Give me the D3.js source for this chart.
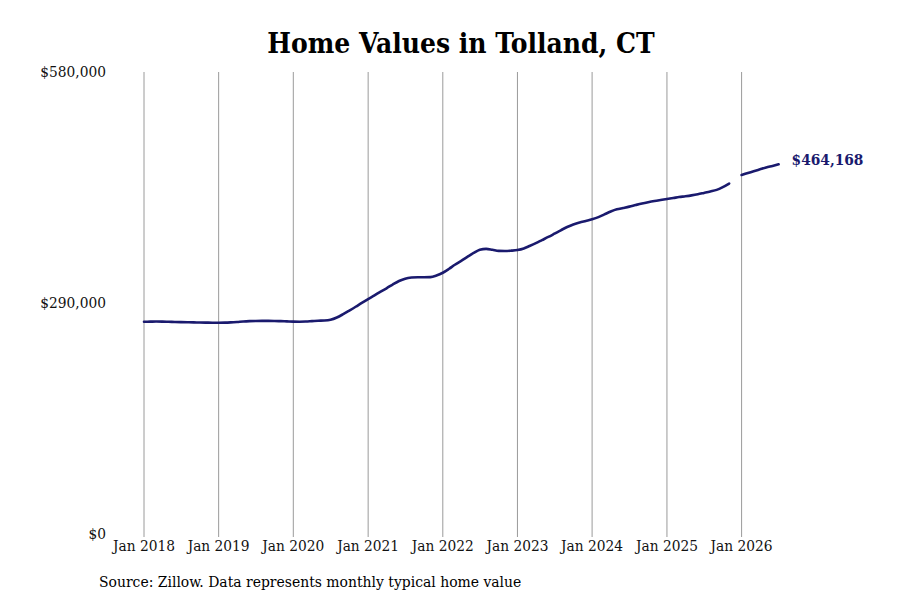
<!DOCTYPE html>
<html><head><meta charset="utf-8">
<script src="https://cdn.jsdelivr.net/npm/d3@7"></script>
<style>
body{margin:0;background:#fff;}
svg text{font-family:"DejaVu Serif Condensed","DejaVu Serif",serif;font-stretch:condensed;}
</style></head>
<body><svg id="c" width="900" height="600"></svg>
<script>
const title = "Home Values in Tolland, CT";
const source = "Source: Zillow. Data represents monthly typical home value";
const yTicks = [0, 290000, 580000];
const xTickYears = [2018, 2019, 2020, 2021, 2022, 2023, 2024, 2025, 2026];
const histStart = "2018-01";
const histValues = [
 266500,266600,266700,266600,266400,266200,266000,265800,265700,265500,265400,265300,
 265300,265400,265700,266200,266800,267200,267400,267500,267500,267400,267200,266900,
 266600,266500,266700,267200,267700,268000,269000,271800,276000,280500,285300,290200,
 295000,299600,304000,308500,313200,317600,320600,322000,322400,322300,322500,324500,
 328000,333000,338000,342800,347800,352800,356800,358000,356800,355400,355300,355700,
 356500,358500,361600,365200,369000,372900,377000,381300,385400,388600,391000,393000,
 395100,397800,401200,404800,407600,409300,411000,413000,414900,416500,418000,419300,
 420600,421800,423000,424000,425100,426500,428200,430000,432000,435500,440000
];
const fcStart = "2026-01";
const fcValues = [450700,453300,455500,457800,460000,462100,464168];

const parse = d3.timeParse("%Y-%m");
function series(start, vals){
  const s = parse(start);
  return vals.map((v,i)=>({date:d3.timeMonth.offset(s,i), value:v}));
}
const hist = series(histStart, histValues);
const fc = series(fcStart, fcValues);

const svg = d3.select("#c");
const x = d3.scaleTime().domain([new Date(2018,0,1), new Date(2026,0,1)]).range([144, 741.6]);
const y = d3.scaleLinear().domain([0, 580000]).range([534, 72]);

svg.append("g").selectAll("line").data(xTickYears).join("line")
  .attr("x1", d=>x(new Date(d,0,1))).attr("x2", d=>x(new Date(d,0,1)))
  .attr("y1", y(580000)).attr("y2", y(0)+3)
  .attr("stroke", "#9a9a9a").attr("stroke-width", 1);

svg.append("g").selectAll("text").data(xTickYears).join("text")
  .attr("x", d=>x(new Date(d,0,1))).attr("y", 550.5)
  .attr("text-anchor","middle").attr("font-size", 15.3).attr("fill","#111")
  .text(d=>"Jan " + d);

const fmt = d3.format(",");
svg.append("g").selectAll("text").data(yTicks).join("text")
  .attr("x", 106).attr("y", d=>y(d)+5)
  .attr("text-anchor","end").attr("font-size", 15.3).attr("fill","#111")
  .text(d=>"$" + fmt(d));

const line = d3.line().x(d=>x(d.date)).y(d=>y(d.value)).curve(d3.curveMonotoneX);
const col = "#1a1a6e";
svg.append("path").datum(hist).attr("d", line).attr("fill","none")
  .attr("stroke", col).attr("stroke-width", 2.6).attr("stroke-linecap","round");
svg.append("path").datum(fc).attr("d", line).attr("fill","none")
  .attr("stroke", col).attr("stroke-width", 2.6).attr("stroke-linecap","round");

const last = fc[fc.length-1];
svg.append("text").attr("x", x(last.date)+13).attr("y", y(last.value)+0.5)
  .attr("font-size", 15.3).attr("font-weight","bold").attr("fill", col)
  .text("$" + fmt(last.value));

svg.append("text").attr("x", 461).attr("y", 53).attr("text-anchor","middle")
  .attr("font-size", 27.9).attr("font-weight","bold").attr("fill","#000").text(title);

svg.append("text").attr("x", 99).attr("y", 587).attr("font-size", 15.5).attr("fill","#000").text(source);
</script></body></html>
